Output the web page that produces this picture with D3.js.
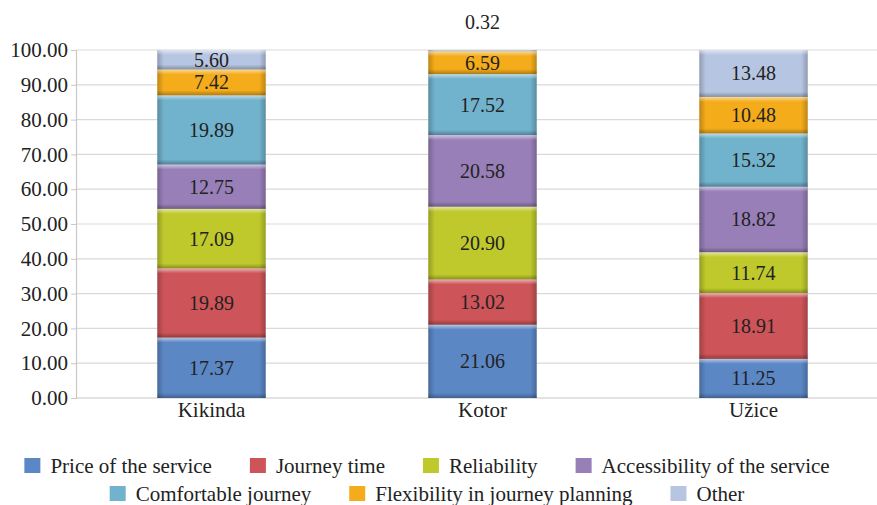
<!DOCTYPE html>
<html>
<head>
<meta charset="utf-8">
<script src="https://cdn.jsdelivr.net/npm/d3@7"></script>
</head>
<body style="margin:0">
<svg id="fig" width="877" height="505"></svg>
<script>
// Cities surveyed
const cities = ["Kikinda", "Kotor", "Užice"];

// Factors influencing the choice of service (stack order, bottom to top)
const factors = [
  "Price of the service",
  "Journey time",
  "Reliability",
  "Accessibility of the service",
  "Comfortable journey",
  "Flexibility in journey planning",
  "Other"
];

// Share (%) of each factor per city
const priceValues         = [17.37, 21.06, 11.25];
const journeyTimeValues   = [19.89, 13.02, 18.91];
const reliabilityValues   = [17.09, 20.90, 11.74];
const accessibilityValues = [12.75, 20.58, 18.82];
const comfortValues       = [19.89, 17.52, 15.32];
const flexibilityValues   = [7.42, 6.59, 10.48];
const otherValues         = [5.60, 0.32, 13.48];

const yTicks = [0, 10, 20, 30, 40, 50, 60, 70, 80, 90, 100];

const colors = ["#5b87c5", "#cd5458", "#bfc92c", "#987fb8", "#71b2cc", "#f4ac1b", "#b6c6e2"];

const seriesValues = [priceValues, journeyTimeValues, reliabilityValues,
  accessibilityValues, comfortValues, flexibilityValues, otherValues];

const rows = cities.map((c, i) => {
  const r = { city: c };
  factors.forEach((f, k) => { r[f] = seriesValues[k][i]; });
  return r;
});

const FONT = '"Liberation Serif"';
const TEXT = "#222";

// Serif face for every piece of text
function serif(sel, size) {
  return sel.style("font-family", FONT, "important").attr("font-size", size).attr("fill", TEXT);
}

const svg = d3.select("#fig");

const x = d3.scaleBand().domain(cities).range([76, 889]).paddingInner(0.6).paddingOuter(0.3);
const y = d3.scaleLinear().domain([0, 100]).range([398, 50]);

// Gradients that give each segment its bevelled look
const defs = svg.append("defs");
const side = defs.append("linearGradient").attr("id", "side").attr("x1", 0).attr("x2", 1).attr("y1", 0).attr("y2", 0);
side.append("stop").attr("offset", 0).attr("stop-color", "#000").attr("stop-opacity", 0.22);
side.append("stop").attr("offset", 0.06).attr("stop-color", "#000").attr("stop-opacity", 0.0);
side.append("stop").attr("offset", 0.94).attr("stop-color", "#000").attr("stop-opacity", 0.0);
side.append("stop").attr("offset", 1).attr("stop-color", "#000").attr("stop-opacity", 0.22);
const topHi = defs.append("linearGradient").attr("id", "tophi").attr("x1", 0).attr("x2", 0).attr("y1", 0).attr("y2", 1);
topHi.append("stop").attr("offset", 0).attr("stop-color", "#fff").attr("stop-opacity", 0.55);
topHi.append("stop").attr("offset", 1).attr("stop-color", "#fff").attr("stop-opacity", 0.0);
const botLo = defs.append("linearGradient").attr("id", "botlo").attr("x1", 0).attr("x2", 0).attr("y1", 0).attr("y2", 1);
botLo.append("stop").attr("offset", 0).attr("stop-color", "#000").attr("stop-opacity", 0.0);
botLo.append("stop").attr("offset", 1).attr("stop-color", "#000").attr("stop-opacity", 0.28);

// Gridlines
svg.append("g").selectAll("line").data(yTicks.filter(d => d > 0)).join("line")
  .attr("x1", 76).attr("x2", 877)
  .attr("y1", d => y(d)).attr("y2", d => y(d))
  .attr("stroke", "#d9d9d9").attr("stroke-width", 1.2);

// Y axis
const yAxis = svg.append("g").attr("transform", "translate(76,0)")
  .call(d3.axisLeft(y).tickValues(yTicks).tickFormat(d3.format(".2f")).tickSize(5).tickPadding(3));
yAxis.attr("font-family", null).attr("font-size", null);
yAxis.select(".domain").attr("stroke", "#c8c8c8").attr("stroke-width", 1.2);
yAxis.selectAll(".tick line").attr("stroke", "#c8c8c8");
serif(yAxis.selectAll("text"), 21);

// X axis
const xAxis = svg.append("g").attr("transform", "translate(0,398)")
  .call(d3.axisBottom(x).tickSize(0).tickPadding(4));
xAxis.attr("font-family", null).attr("font-size", null);
xAxis.select(".domain").attr("d", "M76,0H877").attr("stroke", "#c8c8c8").attr("stroke-width", 1.2);
serif(xAxis.selectAll("text"), 21);

// Stacked bars
const stack = d3.stack().keys(factors);
const series = stack(rows);

const layers = svg.append("g").selectAll("g").data(series).join("g");

layers.each(function (s, k) {
  const g = d3.select(this);
  s.forEach(d => {
    const x0 = x(d.data.city), w = x.bandwidth();
    const yt = y(d[1]), yb = y(d[0]), h = yb - yt;
    const seg = g.append("g");
    seg.append("rect").attr("x", x0).attr("y", yt).attr("width", w).attr("height", h)
      .attr("fill", colors[k]);
    seg.append("rect").attr("x", x0).attr("y", yt).attr("width", w).attr("height", h)
      .attr("fill", "url(#side)");
    const bh = Math.min(5, h / 2);
    seg.append("rect").attr("x", x0).attr("y", yt).attr("width", w).attr("height", bh)
      .attr("fill", "url(#tophi)");
    seg.append("rect").attr("x", x0).attr("y", yb - bh).attr("width", w).attr("height", bh)
      .attr("fill", "url(#botlo)");
  });
});

// Value labels
const labels = svg.append("g");
series.forEach(s => {
  s.forEach(d => {
    const v = d.data[s.key];
    const h = y(d[0]) - y(d[1]);
    const cx = x(d.data.city) + x.bandwidth() / 2;
    const cy = h < 8 ? y(100) - 28 : (y(d[0]) + y(d[1])) / 2;
    serif(labels.append("text"), 20).attr("x", cx).attr("y", cy).attr("dy", "0.35em")
      .attr("text-anchor", "middle")
      .text(d3.format(".2f")(v));
  });
});

// Legend, two centred rows
const legendRows = [factors.slice(0, 4), factors.slice(4)];
const legendY = [466, 494];
const legendCenter = 427;
const legend = svg.append("g");
legendRows.forEach((items, r) => {
  const row = legend.append("g");
  let cursor = 0;
  items.forEach(f => {
    const k = factors.indexOf(f);
    const item = row.append("g").attr("transform", `translate(${cursor},0)`);
    item.append("rect").attr("x", 0).attr("y", legendY[r] - 8).attr("width", 16).attr("height", 15)
      .attr("fill", colors[k]);
    const t = serif(item.append("text"), 21).attr("x", 26).attr("y", legendY[r]).attr("dy", "0.35em").text(f);
    cursor += 26 + t.node().getComputedTextLength() + 38;
  });
  const total = cursor - 38;
  row.attr("transform", `translate(${legendCenter - total / 2},0)`);
});
</script>
</body>
</html>
